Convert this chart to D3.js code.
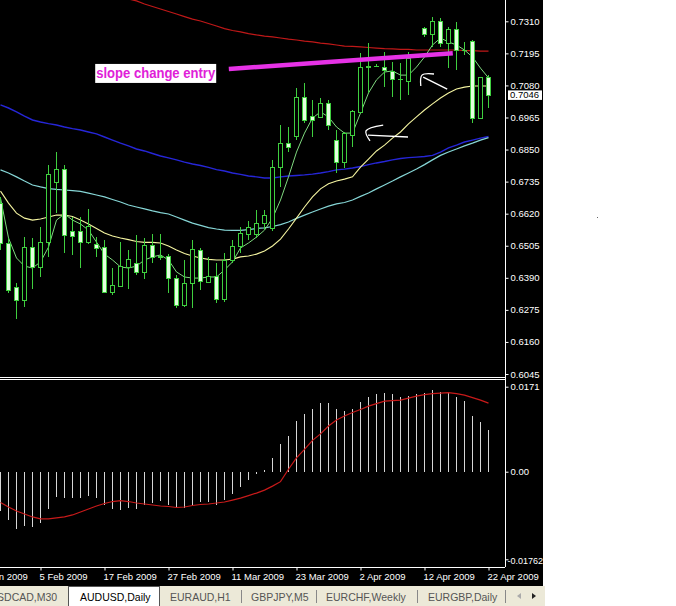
<!DOCTYPE html>
<html><head><meta charset="utf-8">
<script src="https://cdn.jsdelivr.net/npm/d3@7"></script>
<style>html,body{margin:0;padding:0;background:#fff;overflow:hidden}text{font-family:"Liberation Sans",Arial,sans-serif}</style>
</head><body>
<svg id="c" width="676" height="606"></svg>
<script>
// ---------- DATA (AUDUSD, Daily) ----------
const openP  = [0.6658,0.6515,0.6357,0.6310,0.6500,0.6429,0.6518,0.6734,0.6780,0.6558,0.6558,0.6518,0.6511,0.6500,0.6339,0.6360,0.6429,0.6443,0.6411,0.6508,0.6465,0.6468,0.6389,0.6292,0.6372,0.6490,0.6375,0.6396,0.6314,0.6454,0.6504,0.6547,0.6547,0.6586,0.6569,0.6787,0.6873,0.6899,0.7039,0.6970,0.6967,0.7017,0.6884,0.6805,0.6902,0.6985,0.7150,0.7150,0.7146,0.7132,0.7103,0.7096,0.7182,0.7286,0.7264,0.7311,0.7232,0.7282,0.7207,0.7239,0.6963,0.7110];
const highP  = [0.6680,0.6533,0.6372,0.6536,0.6533,0.6572,0.6795,0.6841,0.6795,0.6608,0.6608,0.6637,0.6536,0.6526,0.6425,0.6518,0.6490,0.6543,0.6533,0.6547,0.6547,0.6475,0.6400,0.6454,0.6526,0.6497,0.6465,0.6443,0.6479,0.6526,0.6572,0.6594,0.6634,0.6634,0.6813,0.6938,0.6931,0.7071,0.7089,0.7028,0.7035,0.7028,0.6920,0.6913,0.6992,0.7196,0.7232,0.7157,0.7200,0.7164,0.7160,0.7200,0.7189,0.7288,0.7325,0.7322,0.7290,0.7308,0.7236,0.7243,0.7110,0.7117];
const lowP   = [0.6490,0.6336,0.6242,0.6285,0.6350,0.6393,0.6465,0.6622,0.6479,0.6472,0.6425,0.6511,0.6465,0.6336,0.6328,0.6357,0.6350,0.6400,0.6386,0.6443,0.6454,0.6336,0.6282,0.6285,0.6282,0.6346,0.6372,0.6300,0.6303,0.6443,0.6479,0.6526,0.6533,0.6561,0.6558,0.6716,0.6841,0.6884,0.6945,0.6895,0.6963,0.6920,0.6766,0.6784,0.6859,0.6981,0.7053,0.7146,0.7074,0.7039,0.7028,0.7046,0.7178,0.7254,0.7218,0.7218,0.7142,0.7135,0.7189,0.6945,0.6960,0.6999];
const closeP = [0.6515,0.6346,0.6310,0.6500,0.6429,0.6518,0.6762,0.6780,0.6543,0.6540,0.6518,0.6576,0.6497,0.6339,0.6364,0.6432,0.6457,0.6411,0.6508,0.6465,0.6468,0.6389,0.6292,0.6372,0.6493,0.6379,0.6396,0.6314,0.6454,0.6504,0.6551,0.6572,0.6586,0.6615,0.6787,0.6873,0.6859,0.7039,0.6956,0.6956,0.7017,0.6938,0.6805,0.6909,0.6988,0.7146,0.7146,0.7151,0.7135,0.7103,0.7102,0.7178,0.7185,0.7264,0.7311,0.7232,0.7282,0.7207,0.7206,0.6963,0.7110,0.7046];

const maFast = [0.6676,0.6533,0.6461,0.6432,0.6425,0.6447,0.6500,0.6597,0.6619,0.6597,0.6583,0.6561,0.6518,0.6475,0.6454,0.6429,0.6425,0.6432,0.6454,0.6465,0.6472,0.6454,0.6411,0.6393,0.6389,0.6389,0.6393,0.6393,0.6418,0.6447,0.6497,0.6515,0.6536,0.6561,0.6604,0.6669,0.6752,0.6841,0.6909,0.6963,0.6985,0.6967,0.6931,0.6909,0.6909,0.6981,0.7053,0.7100,0.7128,0.7132,0.7117,0.7117,0.7146,0.7182,0.7225,0.7250,0.7236,0.7225,0.7207,0.7182,0.7142,0.7107];
const ma20   = [0.6701,0.6658,0.6622,0.6604,0.6597,0.6601,0.6608,0.6615,0.6615,0.6610,0.6597,0.6583,0.6567,0.6551,0.6540,0.6533,0.6527,0.6520,0.6517,0.6517,0.6515,0.6504,0.6490,0.6477,0.6468,0.6461,0.6456,0.6454,0.6454,0.6457,0.6465,0.6468,0.6475,0.6486,0.6504,0.6529,0.6565,0.6604,0.6644,0.6680,0.6709,0.6727,0.6737,0.6744,0.6752,0.6787,0.6816,0.6845,0.6866,0.6891,0.6913,0.6942,0.6967,0.6992,0.7014,0.7035,0.7053,0.7067,0.7074,0.7078,0.7078,0.7078];
const ma50   = [0.6777,0.6766,0.6752,0.6737,0.6723,0.6716,0.6710,0.6707,0.6705,0.6703,0.6700,0.6694,0.6687,0.6680,0.6671,0.6662,0.6651,0.6644,0.6637,0.6630,0.6624,0.6619,0.6608,0.6597,0.6586,0.6578,0.6570,0.6565,0.6561,0.6560,0.6560,0.6563,0.6567,0.6569,0.6574,0.6581,0.6590,0.6603,0.6615,0.6626,0.6637,0.6647,0.6655,0.6660,0.6669,0.6682,0.6694,0.6709,0.6723,0.6737,0.6752,0.6766,0.6780,0.6796,0.6813,0.6829,0.6841,0.6852,0.6863,0.6873,0.6884,0.6893];
const ma100  = [0.7010,0.6999,0.6985,0.6970,0.6956,0.6949,0.6943,0.6938,0.6931,0.6925,0.6920,0.6913,0.6906,0.6895,0.6884,0.6873,0.6863,0.6852,0.6845,0.6836,0.6827,0.6820,0.6813,0.6805,0.6798,0.6793,0.6786,0.6778,0.6773,0.6766,0.6761,0.6755,0.6752,0.6748,0.6748,0.6752,0.6755,0.6757,0.6759,0.6762,0.6766,0.6771,0.6777,0.6780,0.6784,0.6789,0.6796,0.6802,0.6807,0.6813,0.6818,0.6821,0.6823,0.6825,0.6829,0.6841,0.6856,0.6866,0.6877,0.6884,0.6891,0.6897];
const ma200  = [null,null,null,null,null,null,null,null,null,null,null,null,null,null,null,null,0.7390,0.7383,0.7372,0.7363,0.7354,0.7345,0.7336,0.7327,0.7318,0.7311,0.7302,0.7293,0.7284,0.7277,0.7272,0.7266,0.7261,0.7257,0.7254,0.7250,0.7246,0.7243,0.7239,0.7236,0.7232,0.7229,0.7225,0.7221,0.7220,0.7218,0.7216,0.7214,0.7212,0.7211,0.7209,0.7209,0.7207,0.7207,0.7207,0.7207,0.7207,0.7207,0.7205,0.7205,0.7203,0.7203];

const macdHist = [-0.0079,-0.0097,-0.0115,-0.0109,-0.0111,-0.0103,-0.0075,-0.0050,-0.0052,-0.0052,-0.0052,-0.0048,-0.0052,-0.0067,-0.0075,-0.0077,-0.0072,-0.0075,-0.0067,-0.0062,-0.0059,-0.0067,-0.0070,-0.0074,-0.0069,-0.0060,-0.0060,-0.0066,-0.0057,-0.0045,-0.0031,-0.0017,-0.0004,0.0004,0.0028,0.0055,0.0072,0.0101,0.0116,0.0126,0.0138,0.0138,0.0126,0.0123,0.0126,0.0141,0.0150,0.0156,0.0158,0.0156,0.0150,0.0152,0.0156,0.0158,0.0164,0.0160,0.0160,0.0151,0.0142,0.0113,0.0099,0.0084];
const macdSignal = [-0.0062,-0.0071,-0.0079,-0.0085,-0.0091,-0.0095,-0.0095,-0.0093,-0.0091,-0.0087,-0.0081,-0.0075,-0.0069,-0.0064,-0.0060,-0.0058,-0.0060,-0.0063,-0.0065,-0.0067,-0.0069,-0.0070,-0.0072,-0.0071,-0.0068,-0.0066,-0.0065,-0.0063,-0.0061,-0.0057,-0.0053,-0.0048,-0.0043,-0.0037,-0.0029,-0.0020,0.0005,0.0028,0.0045,0.0063,0.0076,0.0092,0.0104,0.0112,0.0119,0.0125,0.0132,0.0137,0.0142,0.0143,0.0144,0.0148,0.0152,0.0155,0.0157,0.0158,0.0159,0.0157,0.0154,0.0149,0.0144,0.0138];

const priceTicks = [0.7310,0.7195,0.7080,0.6965,0.6850,0.6735,0.6620,0.6505,0.6390,0.6275,0.6160,0.6045];
const macdTicks = [0.0171,0.00,-0.01762];
const macdTickLabels = ["0.0171","0.00","-0.01762"];
const dateTickIdx = [-3,5,13,21,29,37,45,53,61];
const dateTickLabels = ["26 Jan 2009","5 Feb 2009","17 Feb 2009","27 Feb 2009","11 Mar 2009","23 Mar 2009","2 Apr 2009","12 Apr 2009","22 Apr 2009"];
const lastPrice = 0.7046;

// drawn objects (in bar index / price)
const trendLine = [{i:28.6,p:0.7139},{i:56.6,p:0.7195}];
const labelText = "slope change entry";
const labelAnchor = {i:11.9,p:0.7123};
const arrow1a = [{i:47.9,p:0.6938},{i:45.75,p:0.6917},{i:46.25,p:0.6881}];
const arrow1b = [{i:46.0,p:0.6902},{i:51.0,p:0.6895}];
const arrow2a = [{i:54.25,p:0.7121},{i:52.75,p:0.7117},{i:52.6,p:0.7078}];
const arrow2b = [{i:52.9,p:0.7110},{i:55.9,p:0.7067}];

const tabs = ["USDCAD,M30","AUDUSD,Daily","EURAUD,H1","GBPJPY,M5","EURCHF,Weekly","EURGBP,Daily"];
const activeTab = 1;

// ---------- LAYOUT ----------
const svg = d3.select("#c");
const plotR = 505, mainTop = 0, mainBot = 377, subTop = 380, subBot = 567;
const xS = d3.scaleLinear().domain([0,61]).range([0,488]);
const yP = d3.scaleLinear().domain([0.6045,0.7310]).range([374,21.3]);
const yM = d3.scaleLinear().domain([-0.01762,0.0171]).range([559.3,386.7]);

svg.append("rect").attr("width",676).attr("height",606).attr("fill","#fff");
svg.append("rect").attr("width",543).attr("height",586).attr("fill","#000");

const defs = svg.append("defs");
defs.append("clipPath").attr("id","cm").append("rect").attr("x",0).attr("y",0).attr("width",plotR).attr("height",mainBot);
defs.append("clipPath").attr("id","cs").append("rect").attr("x",0).attr("y",subTop+1).attr("width",plotR).attr("height",subBot-subTop-1);

const gm = svg.append("g").attr("clip-path","url(#cm)");
const idx = d3.range(openP.length);

function maLine(arr,color,w){
  const ln = d3.line().defined(i=>arr[i]!=null).x(i=>xS(i)+0.5).y(i=>yP(arr[i]));
  gm.append("path").attr("d",ln(idx)).attr("fill","none").attr("stroke",color).attr("stroke-width",w);
}
maLine(ma200,"#c01818",1.2);
maLine(ma100,"#2626d8",1.4);
maLine(ma50,"#86d6d6",1.2);
maLine(ma20,"#f4f4a0",1.1);
maLine(maFast,"#7fd87f",1);

// candles
const cg = gm.append("g").attr("shape-rendering","crispEdges");
idx.forEach(i=>{
  const cx = Math.round(xS(i));
  cg.append("line").attr("x1",cx+0.5).attr("x2",cx+0.5)
    .attr("y1",yP(highP[i])).attr("y2",yP(lowP[i])).attr("stroke","#3fcf3f").attr("stroke-width",1);
  const yo = Math.round(yP(openP[i])), yc = Math.round(yP(closeP[i]));
  const top = Math.min(yo,yc), h = Math.abs(yo-yc);
  if (h < 1) {
    cg.append("line").attr("x1",cx-2).attr("x2",cx+3).attr("y1",top+0.5).attr("y2",top+0.5)
      .attr("stroke","#3fcf3f");
  } else {
    const bear = closeP[i] < openP[i];
    cg.append("rect").attr("x",cx-2+0.5).attr("y",top+0.5).attr("width",4).attr("height",h)
      .attr("fill",bear?"#e4ffe0":"#000").attr("stroke","#3fcf3f").attr("stroke-width",1);
  }
});

// trend line
gm.append("path").attr("d",d3.line().x(d=>xS(d.i)).y(d=>yP(d.p))(trendLine))
  .attr("stroke","#e632e6").attr("stroke-width",4.5).attr("fill","none");

// arrows (hand drawn)
const aLine = d3.line().x(d=>xS(d.i)).y(d=>yP(d.p)).curve(d3.curveCatmullRom);
[arrow1a,arrow1b,arrow2a,arrow2b].forEach(a=>{
  gm.append("path").attr("d",aLine(a)).attr("fill","none").attr("stroke","#fff").attr("stroke-width",1.3);
});

// text label
const lx = xS(labelAnchor.i), ly = yP(labelAnchor.p);
gm.append("rect").attr("x",lx).attr("y",ly-9.5).attr("width",121).attr("height",19).attr("fill","#fff");
gm.append("text").attr("x",lx+1).attr("y",ly+4.5).attr("fill","#e020d8").attr("font-size",14)
  .attr("font-weight","bold").attr("textLength",119).attr("lengthAdjust","spacingAndGlyphs").text(labelText);

// MACD subwindow
const gs = svg.append("g").attr("clip-path","url(#cs)");
const hg = gs.append("g").attr("shape-rendering","crispEdges");
idx.forEach(i=>{
  const cx = Math.round(xS(i))+0.5;
  hg.append("line").attr("x1",cx).attr("x2",cx).attr("y1",yM(0)).attr("y2",yM(macdHist[i]))
    .attr("stroke","#d6d6d6").attr("stroke-width",1);
});
gs.append("path").attr("d",d3.line().x(i=>xS(i)+0.5).y(i=>yM(macdSignal[i]))(idx))
  .attr("fill","none").attr("stroke","#c81a1a").attr("stroke-width",1.2);

// separators
svg.append("line").attr("x1",0).attr("x2",plotR).attr("y1",377.5).attr("y2",377.5).attr("stroke","#fff");
svg.append("line").attr("x1",0).attr("x2",plotR).attr("y1",379.5).attr("y2",379.5).attr("stroke","#fff");

// price axis
function styleAxis(g){
  g.select(".domain").attr("stroke","#fff");
  g.selectAll(".tick line").attr("stroke","#fff");
  g.selectAll(".tick text").attr("fill","#fff").attr("font-size",9.5)
    .attr("font-family","'Liberation Sans',Arial,sans-serif");
}
const pa = svg.append("g").attr("transform",`translate(${plotR+0.5},0)`)
  .call(d3.axisRight(yP).tickValues(priceTicks).tickFormat(d3.format(".4f")).tickSize(3).tickPadding(2).tickSizeOuter(0));
styleAxis(pa);
pa.select(".domain").remove();
svg.append("line").attr("x1",plotR+0.5).attr("x2",plotR+0.5).attr("y1",0).attr("y2",subBot).attr("stroke","#fff");

const ma = svg.append("g").attr("transform",`translate(${plotR+0.5},0)`)
  .call(d3.axisRight(yM).tickValues(macdTicks).tickFormat((d,k)=>macdTickLabels[k]).tickSize(3).tickPadding(2));
styleAxis(ma);
ma.select(".domain").remove();
ma.selectAll(".tick text").filter((d,k)=>k===2).attr("font-size",9).attr("x",2).attr("dy","0.5em");

// last price box
const lpy = yP(lastPrice);
svg.append("rect").attr("x",508).attr("y",lpy-4.5).attr("width",34).attr("height",9.5).attr("fill","#fff");
svg.append("text").attr("x",510).attr("y",lpy+3.5).attr("fill","#000").attr("font-size",9.5).text(d3.format(".4f")(lastPrice));

// time axis
const ta = svg.append("g").attr("transform",`translate(0,${subBot+0.5})`)
  .call(d3.axisBottom(xS).tickValues(dateTickIdx).tickFormat((d,k)=>dateTickLabels[k]).tickSize(3).tickPadding(2).tickSizeOuter(0));
styleAxis(ta);
ta.select(".domain").attr("d",`M0,0H${plotR}`);
ta.selectAll(".tick line").attr("transform","translate(0.5,0)");
ta.selectAll(".tick text").attr("text-anchor","start").attr("x",-1).attr("dy","0.78em");

// tab bar
const tb = svg.append("g");
tb.append("rect").attr("x",0).attr("y",586).attr("width",545).attr("height",20).attr("fill","#ece9d8");
const tabX = [-10.5,80,170,251,326,428];
const sepX = [241,316,417,505];
tb.append("rect").attr("x",68.5).attr("y",586.5).attr("width",91).attr("height",20).attr("fill","#fff").attr("stroke","#555");
tabs.forEach((t,k)=>{
  tb.append("text").attr("x",tabX[k]).attr("y",601).attr("font-size",10.5)
    .attr("fill",k===activeTab?"#000":"#555").text(t);
});
sepX.forEach(s=>tb.append("line").attr("x1",s+0.5).attr("x2",s+0.5).attr("y1",590).attr("y2",603).attr("stroke","#888"));
tb.append("path").attr("d","M517,596 L521,593 L521,599 Z").attr("fill","#aaa");
tb.append("path").attr("d","M536,596 L532,593 L532,599 Z").attr("fill","#222");
svg.append("rect").attr("x",597).attr("y",217).attr("width",1).attr("height",1).attr("fill","#666");
</script>
</body></html>
